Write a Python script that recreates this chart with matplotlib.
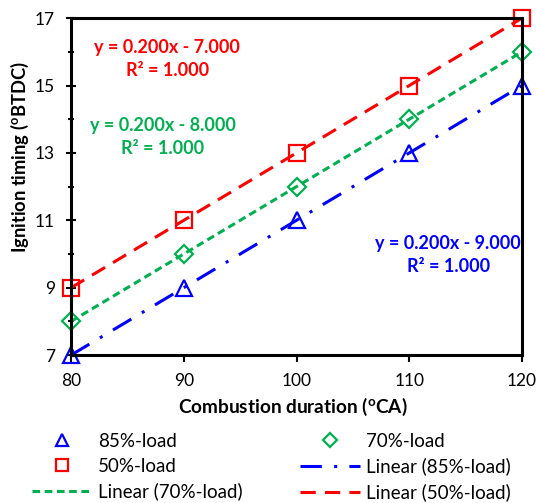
import numpy as np
import matplotlib
matplotlib.use('Agg')
import matplotlib.pyplot as plt
from matplotlib.ticker import FixedLocator, MultipleLocator

plt.rcParams['font.family'] = ['Lato', 'DejaVu Sans']
plt.rcParams['mathtext.fontset'] = 'custom'
plt.rcParams['mathtext.rm'] = 'Lato'
plt.rcParams['mathtext.bf'] = 'Lato:bold'

#Data
duration = [80, 90, 100, 110, 120]
load_85 = [7, 9, 11, 13, 15]
load_70 = [8, 10, 12, 14, 16]
load_50 = [9, 11, 13, 15, 17]
y_major = [7, 9, 11, 13, 15, 17]
y_minor = [8, 10, 12, 14, 16]

BLUE = '#0000FF'
GREEN = '#00B050'
RED = '#FF0000'
FS = 13

fig = plt.figure(figsize=(5.36, 5.03), dpi=100)
ax = fig.add_axes([0.1325, 0.294, 0.8415, 0.67])

x = np.array(duration)

# trend lines
fits = {}
for name, y in [('85', load_85), ('70', load_70), ('50', load_50)]:
    fits[name] = np.polyfit(x, y, 1)

l85, = ax.plot(x, np.polyval(fits['85'], x), color=BLUE, lw=2.2,
               dashes=[7, 4, 1, 4], label='Linear (85%-load)')
l70, = ax.plot(x, np.polyval(fits['70'], x), color=GREEN, lw=2.2,
               dashes=[2.5, 1.5], label='Linear (70%-load)')
l50, = ax.plot(x, np.polyval(fits['50'], x), color=RED, lw=2.2,
               dashes=[5, 3], label='Linear (50%-load)')

m85, = ax.plot(x, load_85, '^', ms=12, mfc='none', mec=BLUE, mew=1.6,
               ls='none', label='85%-load', clip_on=False)
m70, = ax.plot(x, load_70, 'D', ms=9, mfc='none', mec=GREEN, mew=1.6,
               ls='none', label='70%-load', clip_on=False)
m50, = ax.plot(x, load_50, 's', ms=11, mfc='none', mec=RED, mew=1.6,
               ls='none', label='50%-load', clip_on=False)

ax.set_xlim(80, 120)
ax.set_ylim(7, 17)
ax.xaxis.set_major_locator(MultipleLocator(10))
ax.yaxis.set_major_locator(FixedLocator(y_major))
ax.yaxis.set_minor_locator(FixedLocator(y_minor))
ax.tick_params(axis='both', which='major', direction='inout', length=7, width=1.5,
               labelsize=12.5)
ax.tick_params(axis='y', which='major', pad=8)
ax.tick_params(axis='y', which='minor', direction='inout', length=5, width=1.5)
ax.tick_params(axis='x', which='major', direction='out', length=5, pad=8)
for s in ax.spines.values():
    s.set_linewidth(2.2)

# axis titles placed as in the source chart
xlab = fig.text(0.547, 0.191, r'Combustion duration ($\mathbf{^o}$CA)', fontsize=14.5,
                fontweight='bold', ha='center', va='center')
ylab = fig.text(0.037, 0.688, r'Ignition timing ($\mathbf{^o}$BTDC)', fontsize=12,
                fontweight='bold', ha='center', va='center', rotation=90)

# equations
def eqn(name, xp, yp, color):
    k, b = fits[name]
    ax.text(xp, yp, f'y = {k:.3f}x - {abs(b):.3f}\nR² = 1.000', color=color,
            fontsize=FS, fontweight='bold', ha='center', va='center',
            linespacing=1.45, transform=ax.transAxes)

eqn('50', 0.213, 0.878, RED)
eqn('70', 0.204, 0.647, GREEN)
eqn('85', 0.836, 0.297, BLUE)

handles = [m85, m50, l70, m70, l85, l50]
fig.legend(handles=handles, labels=[h.get_label() for h in handles],
           loc='lower left', bbox_to_anchor=(0.029, -0.03), ncol=2,
           frameon=False, fontsize=13.5, handlelength=3.2, columnspacing=3.07,
           labelspacing=0.42, handletextpad=0.3, markerscale=0.75)

# fit the axis title widths to the source
fig.canvas.draw()
r = fig.canvas.get_renderer()
for t, target in [(xlab, 230), (ylab, 191)]:
    w = t.get_window_extent(r)
    size = max(w.width, w.height)
    t.set_fontsize(t.get_fontsize() * target / size)

fig.savefig('out.png', dpi=100)
